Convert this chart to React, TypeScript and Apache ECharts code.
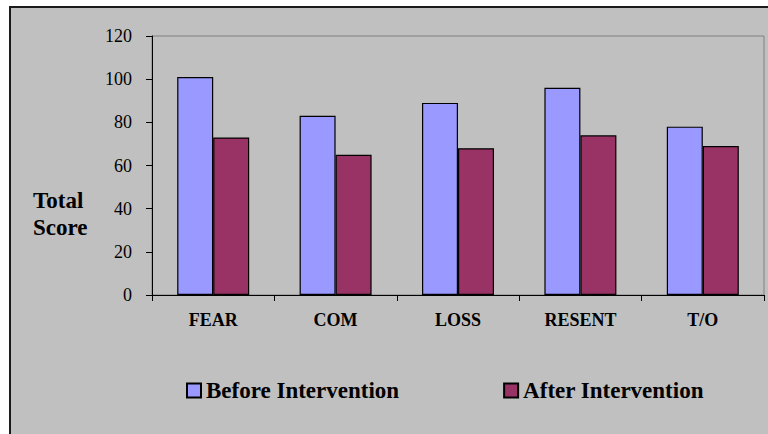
import React, { useEffect, useRef } from "react";
import * as echarts from "echarts";

const categories = ["FEAR", "COM", "LOSS", "RESENT", "T/O"];
const beforeValues = [101, 83, 89, 96, 78];
const afterValues = [73, 65, 68, 74, 69];
const seriesNames = ["Before Intervention", "After Intervention"];
const axisTitleLines = ["Total", "Score"];

const FONT = "'Liberation Serif', 'Times New Roman', serif";

export default function App() {
  const ref = useRef<HTMLDivElement>(null);

  useEffect(() => {
    if (!ref.current) return;
    const chart = echarts.init(ref.current, null, { renderer: "svg" });
    chart.setOption({
      animation: false,
      backgroundColor: "#ffffff",
      textStyle: { fontFamily: FONT, color: "#000" },
      graphic: [
        {
          type: "rect",
          z: -10,
          shape: { x: 10, y: 7, width: 800, height: 500 },
          style: { fill: "#C0C0C0", stroke: "#1a1a1a", lineWidth: 2 },
        },
        {
          type: "text",
          left: 33,
          top: 187,
          z: 10,
          style: {
            text: axisTitleLines.join("\n"),
            font: `bold 23px ${FONT}`,
            fill: "#000",
            lineHeight: 27,
            align: "left",
          },
        },
      ],
      grid: {
        left: 152,
        top: 36,
        right: 4,
        bottom: 139,
        show: true,
        borderColor: "#808080",
        borderWidth: 1,
        backgroundColor: "transparent",
      },
      legend: {
        left: 186,
        top: 379,
        padding: 0,
        itemWidth: 14,
        itemHeight: 14,
        itemGap: 104,
        icon: "rect",
        data: seriesNames,
        textStyle: {
          fontFamily: FONT,
          fontSize: 23,
          fontWeight: "bold",
          color: "#000",
        },
      },
      xAxis: {
        type: "category",
        data: categories,
        axisLine: { lineStyle: { color: "#000", width: 1 } },
        axisTick: { show: true, length: 6, lineStyle: { color: "#000" } },
        axisLabel: {
          fontFamily: FONT,
          fontSize: 18,
          fontWeight: "bold",
          color: "#000",
          margin: 16,
        },
      },
      yAxis: {
        type: "value",
        min: 0,
        max: 120,
        interval: 20,
        axisLine: { show: true, lineStyle: { color: "#000", width: 1 } },
        axisTick: { show: true, length: 6, lineStyle: { color: "#000" } },
        splitLine: { show: false },
        axisLabel: {
          fontFamily: FONT,
          fontSize: 18,
          color: "#000",
          margin: 20,
        },
      },
      series: [
        {
          name: seriesNames[0],
          type: "bar",
          data: beforeValues,
          barWidth: 36,
          barGap: "0%",
          itemStyle: { color: "#9999FF", borderColor: "#000", borderWidth: 1.2 },
        },
        {
          name: seriesNames[1],
          type: "bar",
          data: afterValues,
          barWidth: 36,
          barGap: "0%",
          itemStyle: { color: "#993366", borderColor: "#000", borderWidth: 1.2 },
        },
      ],
    });
    return () => chart.dispose();
  }, []);

  return (
    <div
      ref={ref}
      style={{ position: "fixed", left: 0, top: 0, width: 768, height: 434 }}
    />
  );
}
